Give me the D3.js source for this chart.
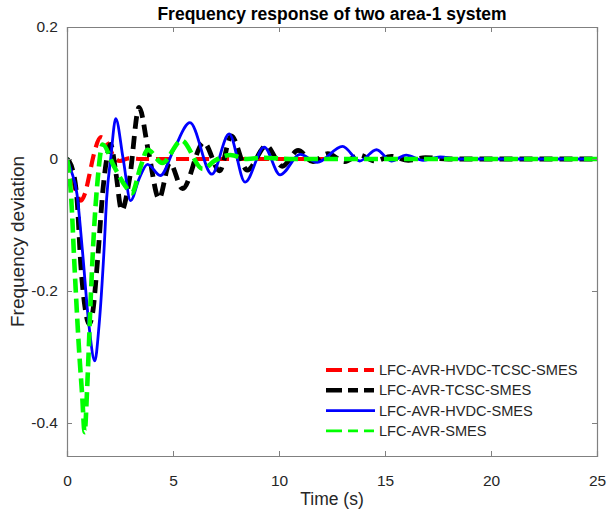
<!DOCTYPE html>
<html>
<head>
<meta charset="utf-8">
<script src="https://cdn.jsdelivr.net/npm/d3@7"></script>
<style>
  body { margin: 0; background: #fff; }
  svg { font-family: "Liberation Sans", Arial, sans-serif; }
</style>
</head>
<body>
<svg id="chart" width="608" height="514"></svg>
<script>
// series: time (s) and frequency deviation
const redT   = [0, 0.15, 0.33, 0.5, 0.65, 0.85, 1.05, 1.25, 1.6, 1.9, 2.2, 2.5, 2.9, 3.5, 5, 12.5];
const redV   = [0, -0.012, -0.038, -0.056, -0.063, -0.052, -0.025, 0.005, 0.033, 0.024, 0.004, -0.003, 0.001, 0, 0, 0];

const blackT = [0, 0.2, 0.47, 0.65, 0.85, 1.04, 1.2, 1.45, 1.7, 1.9, 2.06, 2.3, 2.58, 2.95, 3.4, 3.85, 4.34, 4.85, 5.45, 6.45, 7.2, 7.75, 8.5, 9.4, 10.15, 10.9, 11.6, 12.3, 13.1, 13.8, 14.5, 15.3, 16.1, 16.9, 18, 25];
const blackV = [0, -0.01, -0.06, -0.16, -0.225, -0.25, -0.235, -0.15, -0.045, 0.005, 0.022, -0.02, -0.078, -0.03, 0.078, 0.01, -0.06, -0.006, -0.045, 0.025, -0.018, 0.035, -0.017, 0.02, -0.011, 0.013, -0.004, 0.008, -0.004, 0.006, -0.003, 0.004, -0.002, 0.002, 0, 0];

const blueT  = [0, 0.2, 0.47, 0.72, 1.04, 1.31, 1.51, 1.75, 1.87, 2.06, 2.3, 2.65, 3.0, 3.4, 3.8, 4.4, 5.05, 5.8, 6.83, 7.65, 8.4, 9.3, 10.05, 11.0, 11.8, 13.0, 13.8, 14.6, 15.3, 16.0, 16.8, 17.6, 18.5, 25];
const blueV  = [0, -0.018, -0.053, -0.136, -0.253, -0.306, -0.253, -0.136, -0.06, 0.0, 0.061, 0.0, -0.063, -0.03, -0.008, -0.025, 0.015, 0.055, -0.023, 0.038, -0.035, 0.018, -0.024, 0.007, -0.005, 0.019, -0.003, 0.014, -0.003, 0.006, -0.002, 0.003, 0, 0];

const greenT = [0, 0.1, 0.2, 0.35, 0.57, 0.72, 0.83, 0.96, 1.12, 1.27, 1.45, 1.68, 2.2, 2.77, 3.05, 3.47, 3.8, 4.5, 5.4, 6.4, 7.0, 7.7, 8.5, 9.3, 10.5, 25];
const greenV = [0, -0.02, -0.06, -0.16, -0.29, -0.36, -0.414, -0.34, -0.21, -0.11, -0.03, 0.022, -0.01, -0.042, -0.052, -0.012, 0.014, -0.006, 0.028, -0.015, -0.002, 0.006, 0, 0.002, 0, 0];

const seriesNames = ["LFC-AVR-HVDC-TCSC-SMES", "LFC-AVR-TCSC-SMES", "LFC-AVR-HVDC-SMES", "LFC-AVR-SMES"];
const xTicks = [0, 5, 10, 15, 20, 25];
const yTicks = [-0.4, -0.2, 0, 0.2];

const series = [
    { name: seriesNames[0], t: redT,   v: redV,   color: "#ff0000", width: 4.2, dash: "13,7", legWidth: 4,   legDash: "16,6,10,6,10" },
    { name: seriesNames[1], t: blackT, v: blackV, color: "#000000", width: 4.8, dash: "13,7", legWidth: 4.5, legDash: "16,6,10,6,10" },
    { name: seriesNames[2], t: blueT,  v: blueV,  color: "#0000ff", width: 2.8, dash: null,   legWidth: 2.6, legDash: null },
    { name: seriesNames[3], t: greenT, v: greenV, color: "#00ff00", width: 4.6, dash: "14,6", legWidth: 2.6, legDash: "16,6,10,6,10" }
];

const svg = d3.select("#chart");
const margin = { top: 27, right: 11, bottom: 58, left: 67 };
const width = 608, height = 514;

const x = d3.scaleLinear().domain([0, 25]).range([margin.left, width - margin.right]);
const y = d3.scaleLinear().domain([-0.45, 0.2]).range([height - margin.bottom, margin.top]);

svg.append("defs").append("clipPath").attr("id", "plot-clip")
    .append("rect")
    .attr("x", margin.left).attr("y", margin.top)
    .attr("width", x(25) - x(0)).attr("height", y(-0.45) - y(0.2));

// lines
const line = d3.line()
    .x(d => x(d[0]))
    .y(d => y(d[1]))
    .curve(d3.curveMonotoneX);

const lines = svg.append("g").attr("clip-path", "url(#plot-clip)");
series.forEach(s => {
    const pts = s.t.map((t, i) => [t, s.v[i]]);
    lines.append("path")
        .attr("d", line(pts))
        .attr("fill", "none")
        .attr("stroke", s.color)
        .attr("stroke-width", s.width)
        .attr("stroke-dasharray", s.dash)
        .attr("stroke-linejoin", "round");
});

// axes, ticks inside, box all round
const axisColor = "#808080";
const tickColor = "#262626";

const gx = svg.append("g")
    .attr("transform", `translate(0,${y(-0.45)})`)
    .call(d3.axisBottom(x).tickValues(xTicks).tickSize(-5).tickPadding(19).tickFormat(d => d));
const gxTop = svg.append("g")
    .attr("transform", `translate(0,${y(0.2)})`)
    .call(d3.axisTop(x).tickValues(xTicks).tickSize(-5).tickFormat(""));
const gy = svg.append("g")
    .attr("transform", `translate(${x(0)},0)`)
    .call(d3.axisLeft(y).tickValues(yTicks).tickSize(-5).tickPadding(9).tickFormat(d => String(d)));
const gyRight = svg.append("g")
    .attr("transform", `translate(${x(25)},0)`)
    .call(d3.axisRight(y).tickValues(yTicks).tickSize(-5).tickFormat(""));

[gx, gxTop, gy, gyRight].forEach(g => {
    g.select(".domain").attr("stroke", axisColor).attr("stroke-width", 1.2);
    g.selectAll(".tick line").attr("stroke", axisColor);
    g.selectAll(".tick text")
        .attr("fill", tickColor)
        .style("font-size", "15.5px")
        .style("font-family", "Liberation Sans, Arial, sans-serif");
});

// title and axis labels
svg.append("text")
    .attr("x", (x(0) + x(25)) / 2)
    .attr("y", 20)
    .attr("text-anchor", "middle")
    .style("font-size", "17.5px")
    .style("font-weight", "bold")
    .attr("fill", "#000")
    .text("Frequency response of two area-1 system");

svg.append("text")
    .attr("x", (x(0) + x(25)) / 2)
    .attr("y", 505)
    .attr("text-anchor", "middle")
    .style("font-size", "17.5px")
    .attr("fill", tickColor)
    .text("Time (s)");

svg.append("text")
    .attr("transform", `translate(24,${(y(0.2) + y(-0.45)) / 2}) rotate(-90)`)
    .attr("text-anchor", "middle")
    .style("font-size", "19px")
    .attr("fill", tickColor)
    .text("Frequency deviation");

// legend, no box
const legend = svg.append("g");
series.forEach((s, i) => {
    const ly = 370 + i * 20.3;
    legend.append("line")
        .attr("x1", 326).attr("x2", 375)
        .attr("y1", ly).attr("y2", ly)
        .attr("stroke", s.color)
        .attr("stroke-width", s.legWidth)
        .attr("stroke-dasharray", s.legDash);
    legend.append("text")
        .attr("x", 379)
        .attr("y", ly + 5)
        .style("font-size", "14.6px")
        .attr("fill", tickColor)
        .text(s.name);
});
</script>
</body>
</html>
